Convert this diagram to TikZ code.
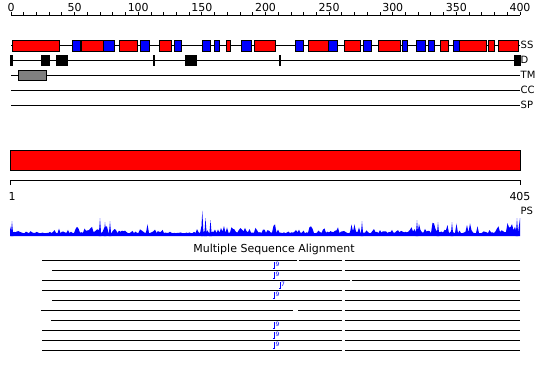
\documentclass[tikz,border=0pt]{standalone}
\usepackage{fontspec}
\setmainfont{DejaVu Sans}
\definecolor{ssred}{RGB}{255,0,0}
\definecolor{ssblue}{RGB}{0,0,255}
\definecolor{tmgray}{RGB}{128,128,128}

\begin{document}
\begin{tikzpicture}[
  x=1pt, y=-1pt,
  track/.style={draw=black, line width=0.9pt},
  helix/.style={draw=black, fill=ssred, line width=0.8pt},
  strand/.style={draw=black, fill=ssblue, line width=0.8pt},
  dombox/.style={fill=black},
  tmbox/.style={draw=black, fill=tmgray, line width=0.8pt},
  tracklabel/.style={anchor=base west, inner sep=0pt, font=\fontsize{10}{12}\selectfont},
  numlabel/.style={anchor=base, inner sep=0pt, font=\fontsize{11}{13}\selectfont},
  msamark/.style={draw=ssblue, line width=0.7pt},
  msanum/.style={anchor=north west, inner sep=0pt, text=ssblue, font=\fontsize{6}{6}\selectfont},
  declare function={env(\t)=(\t<15)?12:((\t<75)?5:((\t<90)?8:((\t<120)?12:((\t<150)?10:((\t<195)?4:((\t<215)?10:((\t<280)?10:((\t<295)?3:((\t<350)?9:((\t<366)?12:((\t<410)?6:11)))))))))));},
]
\useasboundingbox (0,0) rectangle (550,380);

% Ruler
\draw[track] (11,15) -- (520,15);
\foreach \i in {0,10,...,400}
  \draw[track] ({11+1.2725*\i},15) -- ({11+1.2725*\i},12.3);
\foreach \i in {0,50,...,400}
  \node[numlabel] (tick\i) at ({11+1.2725*\i},11) {\i};

% Tracks
\foreach \name/\y in {SS/45,D/60.3,TM/75.3,CC/90,SP/105.3} {
  \draw[track] (11,\y) -- (520,\y);
  \node[tracklabel] (lab\name) at (520.5,\y+3.6) {\name};
}

% Secondary structure
\foreach \a/\b in {12.3/59.3,81.3/103.3,119.3/137.7,159.3/171.3,226.2/230.7,254.3/275.5,308.3/328.3,344.3/360.5,378.3/400,440.7/448.7,459.3/486.7,488.7/494.7,498.3/518.3}
  \draw[helix] (\a,40) rectangle (\b,51);
\foreach \a/\b in {72.7/80,103.3/114.7,140.5/149.8,174.2/181.7,202.3/210.8,214.3/219.8,241/251.7,295.7/303.5,328.3/337.5,363.3/371.7,402.3/407.5,416.7/425.7,428.3/434.3,453.3/459.3}
  \draw[strand] (\a,40) rectangle (\b,51);

% Disorder
\foreach \a/\b in {10.3/12.7,40.7/50,56/68,153.3/155,185/197,279.3/281,514.3/520.5}
  \fill[dombox] (\a,55) rectangle (\b,66);

% Transmembrane
\draw[tmbox] (18.3,70) rectangle (46.7,80.7);

% Domain bar and scale
\draw[helix] (10,150) rectangle (520.5,170.5);
\draw[track] (10.5,185) -- (10.5,180.7) -- (520,180.7) -- (520,185);
\node[numlabel] (first) at (12,200) {1};
\node[numlabel] (last) at (520,200) {405};
\node[tracklabel] (labPS) at (520.5,214) {PS};

% Profile
\pgfmathsetseed{11}
\fill[ssblue] (10,236) -- (10,226)
  \foreach \x in {11,12.5,...,519} { -- (\x,{236-2.8-env(\x)*rnd*rnd}) } -- (520,218) -- (520,236) -- cycle;
\foreach \x/\h in {12/15,100/18,105/14,110/15,202.3/25.3,205.5/18,210.5/16,362/15,417/16,438/14,452/14,517/18}
  \fill[ssblue] (\x-1.3,236) -- (\x,236-\h) -- (\x+1.3,236) -- cycle;

% Alignment
\node[anchor=base, inner sep=0pt, font=\fontsize{11}{13}\selectfont] (msa) at (274,252.5) {Multiple Sequence Alignment};
\foreach \s [count=\r from 0] in {42,52,42,42,52,41,51,42,42,42}
  \draw[track] (\s,260.5+10*\r) -- (520,260.5+10*\r);
\foreach \r/\a/\b in {0/297.3/299.3,0/341.5/345,1/341.5/345,2/350/352,3/341.5/345,4/341.5/345,5/293/297.5,5/341.5/345,6/341.5/345,7/341.5/345,8/341.5/345,9/341.5/345}
  \draw[white, line width=1.6pt] (\a,260.5+10*\r) -- (\b,260.5+10*\r);
\foreach \y/\x/\n in {270.5/274.3/9,280.5/274.3/9,290.5/280/7,300.5/274.3/9,330.5/274.3/9,340.5/274.3/9,350.5/274.3/9} {
  \draw[msamark] (\x,\y-8.3) -- (\x,\y-2.5) -- (\x-1.5,\y-2.5);
  \node[msanum] (num\y) at (\x+1,\y-8.5) {\n};
}
\end{tikzpicture}
\end{document}
